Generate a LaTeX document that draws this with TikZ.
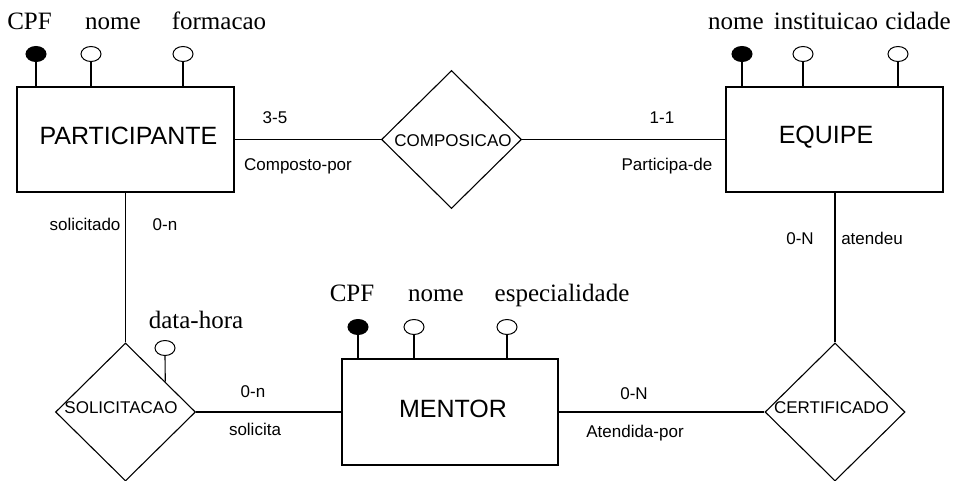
\documentclass[tikz,border=0pt]{standalone}
\usepackage{fontspec}
\setmainfont{Liberation Serif}
\newfontfamily\arialf{Liberation Sans}
\usetikzlibrary{shapes.geometric}
\begin{document}
\begin{tikzpicture}[x=1pt,y=-1pt,
  ent/.style={draw, line width=1.1pt, rectangle, minimum width=217pt, minimum height=105pt, inner sep=0pt},
  rel/.style={draw, line width=1.1pt, diamond, minimum width=140pt, minimum height=138pt, inner sep=0pt},
  entname/.style={font=\arialf\fontsize{25}{25}\selectfont, inner sep=0pt},
  relname/.style={font=\arialf\fontsize{17}{17}\selectfont, inner sep=0pt},
  card/.style={font=\arialf\fontsize{17}{17}\selectfont, inner sep=0pt, anchor=base},
  attr/.style={font=\fontsize{25}{25}\selectfont, inner sep=0pt, anchor=base},
  keyatt/.style={ellipse, draw, fill=black, line width=1pt, minimum width=20pt, minimum height=15pt, inner sep=0pt},
  simatt/.style={ellipse, draw, fill=white, line width=1pt, minimum width=20pt, minimum height=15pt, inner sep=0pt},
  conn/.style={line width=1.1pt}
]
\path[fill=white] (0,0) rectangle (955,480);
\useasboundingbox (0,0) rectangle (955,480);

% entities
\node[ent] (part) at (125.5,139.5) {};
\node[entname] (partname) at (128.5,136) {PARTICIPANTE};
\node[ent] (equipe) at (834.5,139.5) {};
\node[entname] (equipename) at (826,137) {EQUIPE};
\node[ent, minimum width=216pt, minimum height=106pt] (mentor) at (450,412) {};
\node[entname] (mentorname) at (453,409) {MENTOR};

% relationships
\node[rel] (comp) at (451.5,139.5) {};
\node[relname] (compname) at (453,141) {COMPOSICAO};
\node[rel] (sol) at (125.5,412) {};
\node[relname] (solname) at (121,408) {SOLICITACAO};
\node[rel] (cert) at (835,412) {};
\node[relname] (certname) at (831.5,408) {CERTIFICADO};

% connectors
\draw[conn] (part.east) -- (comp.west);
\draw[conn] (comp.east) -- (equipe.west);
\draw[conn] (part.south) -- (sol.north);
\draw[conn] (sol.east) -- (mentor.west);
\draw[conn] (mentor.east) -- (cert.west);
\draw[conn] (cert.north) -- (cert.north |- equipe.south);

% cardinalities and roles
\node[card] (c1) at (275,123) {3-5};
\node[card] (c2) at (298,170) {Composto-por};
\node[card] (c3) at (662,123) {1-1};
\node[card] (c4) at (667,170) {Participa-de};
\node[card] (c5) at (85,230.5) {solicitado};
\node[card] (c6) at (165,230.5) {0-n};
\node[card] (c7) at (800,244) {0-N};
\node[card] (c8) at (872,244) {atendeu};
\node[card] (c9) at (253,397) {0-n};
\node[card] (c10) at (255,435) {solicita};
\node[card] (c11) at (634,399) {0-N};
\node[card] (c12) at (635,437) {Atendida-por};

% PARTICIPANTE attributes
\node[keyatt] (pcpf) at (36,54) {};
\node[simatt] (pnome) at (91,54) {};
\node[simatt] (pform) at (183,54) {};
\draw[conn] (pcpf.south) -- (pcpf.south |- part.north);
\draw[conn] (pnome.south) -- (pnome.south |- part.north);
\draw[conn] (pform.south) -- (pform.south |- part.north);
\node[attr] (lpcpf) at (29.5,29) {CPF};
\node[attr] (lpnome) at (113,29) {nome};
\node[attr] (lpform) at (219,29) {formacao};

% EQUIPE attributes
\node[keyatt] (enome) at (742,54) {};
\node[simatt] (einst) at (803,54) {};
\node[simatt] (ecid) at (898,54) {};
\draw[conn] (enome.south) -- (enome.south |- equipe.north);
\draw[conn] (einst.south) -- (einst.south |- equipe.north);
\draw[conn] (ecid.south) -- (ecid.south |- equipe.north);
\node[attr] (lenome) at (736,29) {nome};
\node[attr] (leinst) at (826,29) {instituicao};
\node[attr] (lecid) at (918,29) {cidade};

% MENTOR attributes
\node[keyatt] (mcpf) at (358,327) {};
\node[simatt] (mnome) at (414,327) {};
\node[simatt] (mesp) at (507,327) {};
\draw[conn] (mcpf.south) -- (mcpf.south |- mentor.north);
\draw[conn] (mnome.south) -- (mnome.south |- mentor.north);
\draw[conn] (mesp.south) -- (mesp.south |- mentor.north);
\node[attr] (lmcpf) at (352,301) {CPF};
\node[attr] (lmnome) at (436,301) {nome};
\node[attr] (lmesp) at (562,301) {especialidade};

% SOLICITACAO attribute
\node[simatt] (dh) at (165,348) {};
\path (sol.north) -- (sol.east) coordinate[pos=0.564] (solattach);
\draw[conn] (dh.south) -- (solattach);
\node[attr] (ldh) at (196,328) {data-hora};
\end{tikzpicture}
\end{document}
